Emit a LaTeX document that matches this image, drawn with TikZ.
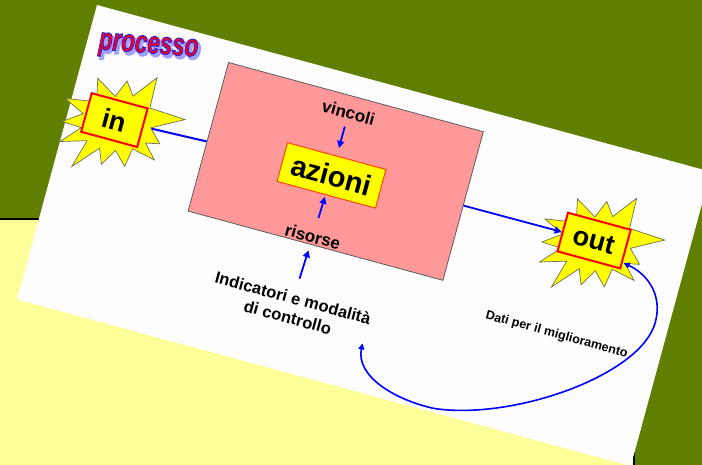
\documentclass[tikz,border=0pt]{standalone}
\usepackage{fontspec}
\setmainfont{Liberation Sans}
\usetikzlibrary{arrows.meta}
\pgfdeclarelayer{back}
\pgfdeclarelayer{bg}
\pgfsetlayers{back,bg,main}
\definecolor{olivebg}{RGB}{96,126,0}
\definecolor{paleyel}{RGB}{255,255,153}
\definecolor{cardwhite}{RGB}{253,253,253}
\definecolor{pinkbox}{RGB}{255,153,153}
\definecolor{staryel}{RGB}{255,255,0}
\definecolor{stargray}{RGB}{110,110,90}
\definecolor{boxgray}{RGB}{90,90,90}
\definecolor{azred}{RGB}{255,60,0}
\definecolor{titlered}{RGB}{240,0,40}
\definecolor{shadowblue}{RGB}{160,160,255}
\tikzset{
 lbl/.style={inner sep=0pt, font=\fontsize{#1}{#1}\selectfont\bfseries},
 redbox/.style={draw=red, line width=2pt, fill=staryel, minimum width=58pt, minimum height=40pt, inner sep=0pt, font=\fontsize{27}{27}\selectfont\bfseries},
 azbox/.style={draw=azred, line width=0.9pt, fill=staryel, minimum width=102pt, minimum height=40pt, inner sep=0pt, font=\fontsize{29}{29}\selectfont\bfseries},
 procbox/.style={draw=boxgray, line width=0.8pt, fill=pinkbox, minimum width=264pt, minimum height=154pt, inner sep=0pt},
 starshape/.style={fill=staryel, draw=stargray, line width=0.7pt, line join=miter},
 blueline/.style={draw=blue, line width=2pt},
 bluearrow/.style={draw=blue, line width=1.8pt, -{Triangle[length=7pt,width=7pt]}},
 bluecurve/.style={draw=blue, line width=1.6pt, {Triangle[length=6pt,width=6pt]}-{Triangle[length=6pt,width=6pt]}},
 ttl/.style={rotate=-4.2, xscale=0.7, anchor=base, inner sep=0pt, font=\fontsize{32}{32}\selectfont\bfseries\itshape}
}
\newcommand\explosionshape[1]{\filldraw[starshape, shift={#1}] (-53,-8) -- (-22,-13) -- (-27,-36) -- (-5.5,-23) -- (2,-41) -- (11.6,-28) -- (30,-52) -- (31,-21) -- (68,-19) -- (37,-2) -- (50,11) -- (36,14) -- (49,28) -- (25,23) -- (22,42) -- (9,29) -- (-1,46) -- (-7,31) -- (-29,56) -- (-21,27) -- (-47,35) -- (-30,16) -- (-50,15) -- (-32,2) -- cycle;}
\newcommand\outlinedtext[3]{\special{pdf:literal direct #1 RG #2 w 2 Tr}#3\special{pdf:literal direct 0 Tr}}
\begin{document}
\begin{tikzpicture}[x=1pt,y=-1pt]
\useasboundingbox (0,0) rectangle (702,465);
\begin{pgfonlayer}{back}
\fill[olivebg] (0,0) rectangle (702,465);
\filldraw[fill=paleyel, draw=black, line width=1.5pt] (-5,219) rectangle (634,475);
\end{pgfonlayer}
\begin{scope}[shift={(97,5)}, rotate=-15.2, transform shape]
\begin{pgfonlayer}{back}
\fill[cardwhite] (0,0) rectangle (636,305);
\end{pgfonlayer}
\node[procbox] (proc) at (274,98) {};
\node[azbox] (az) at (271,103) {azioni};
\node[lbl=17, anchor=base] (vinc) at (271,44) {vincoli};
\node[lbl=17, anchor=base] (ris) at (269,173) {risorse};
\node[inner sep=0pt, align=center, anchor=north, font=\fontsize{16.5}{20}\selectfont\bfseries] (ind) at (266,225) {Indicatori e modalità\\di controllo};
\node[lbl=12.5, anchor=base] (dati) at (530,201) {Dati per il miglioramento};
\explosionshape{(47,106.5)}
\node[redbox] (inb) at (47,106.5) {in};
\explosionshape{(541.5,97)}
\node[redbox, minimum width=65pt] (outb) at (541.5,97) {out};
\begin{pgfonlayer}{bg}
\draw[blueline] (inb) -- (proc);
\end{pgfonlayer}
\draw[bluearrow] (proc) -- (outb);
\draw[bluearrow, shorten <=8pt, shorten >=8pt] (vinc) -- (az);
\draw[bluearrow, shorten <=13pt, shorten >=2pt] (ris) -- (az);
\draw[bluearrow, shorten <=14pt, shorten >=8pt] (ind) -- (ris);
\coordinate (dA) at (345,257);
\coordinate (dB) at (576,111);
\draw[bluecurve] (dA) .. controls (347,290) and (390,303) .. (431,301)
  .. controls (510,292) and (622,215) .. (622,160)
  .. controls (622,130) and (600,115) .. (dB);
\end{scope}
\node[ttl, text=shadowblue] at (150.5,56) {\outlinedtext{0.63 0.63 1}{2.2}{processo}};
\node[ttl, text=titlered] (title) at (148,53) {\outlinedtext{0.2 0.12 0.8}{1.0}{processo}};
\end{tikzpicture}
\end{document}
